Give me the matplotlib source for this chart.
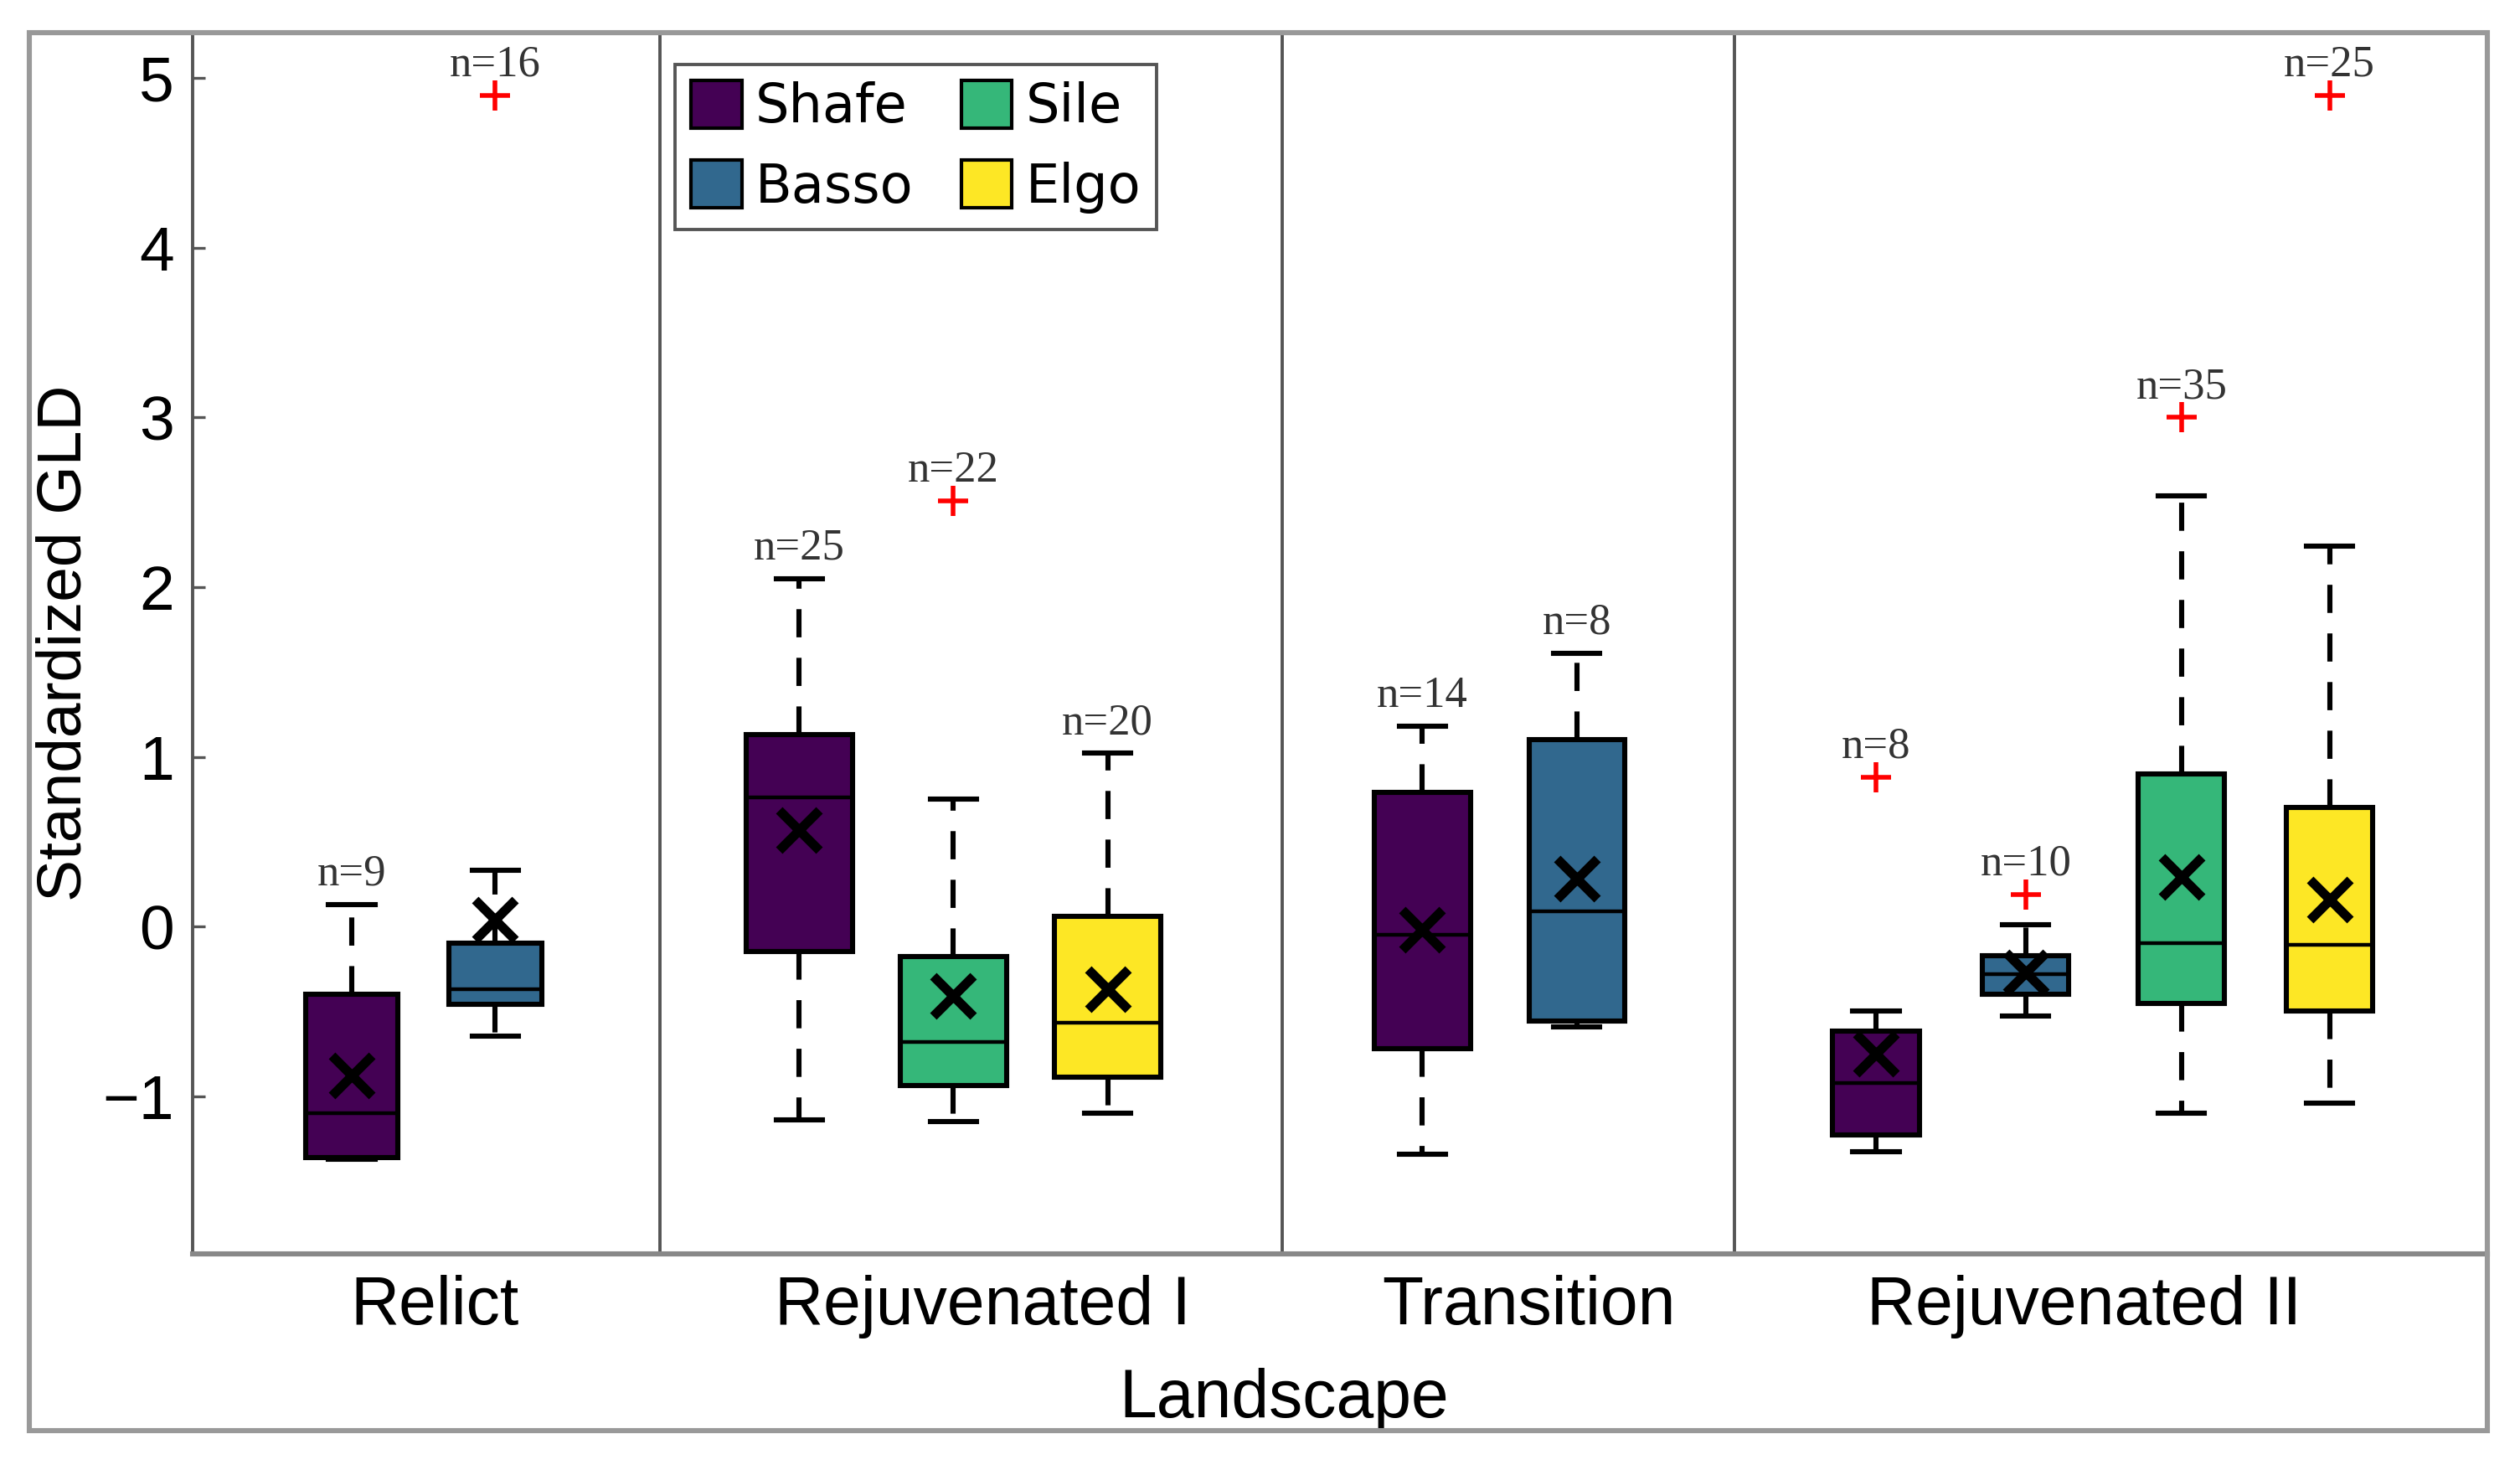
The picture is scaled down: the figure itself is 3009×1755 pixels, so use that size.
import numpy as np
import matplotlib
matplotlib.use('Agg')
import matplotlib.pyplot as plt
from matplotlib.patches import Patch, Rectangle

# datos
paisajes = ['Relict', 'Rejuvenated I', 'Transition', 'Rejuvenated II']
especies = ['Shafe', 'Basso', 'Sile', 'Elgo']
colores = {'Shafe': '#440154', 'Basso': '#31688e', 'Sile': '#35b779', 'Elgo': '#fde725'}

caja_paisaje = [0, 0, 1, 1, 1, 2, 2, 3, 3, 3, 3]
caja_especie = ['Shafe', 'Basso', 'Shafe', 'Sile', 'Elgo', 'Shafe', 'Basso',
                'Shafe', 'Basso', 'Sile', 'Elgo']
bigote_inf = [-1.37, -0.645, -1.14, -1.15, -1.10, -1.34, -0.59, -1.33, -0.53, -1.10, -1.04]
cuartil_1 = [-1.36, -0.46, -0.15, -0.94, -0.886, -0.72, -0.555, -1.23, -0.40, -0.455, -0.50]
mediana = [-1.10, -0.37, 0.76, -0.68, -0.566, -0.05, 0.09, -0.925, -0.28, -0.096, -0.11]
cuartil_3 = [-0.40, -0.097, 1.13, -0.176, 0.06, 0.79, 1.10, -0.615, -0.17, 0.90, 0.70]
bigote_sup = [0.13, 0.33, 2.05, 0.75, 1.02, 1.18, 1.61, -0.50, 0.01, 2.54, 2.24]
media = [-0.876, 0.04, 0.57, -0.41, -0.37, -0.02, 0.28, -0.75, -0.27, 0.29, 0.16]
atipicos = [[], [4.90], [], [2.51], [], [], [], [0.88], [0.19], [3.00], [4.90]]
n_muestras = [9, 16, 25, 22, 20, 14, 8, 8, 10, 35, 25]

# disposicion (unidades del eje x)
posiciones = [1.03, 1.96, 3.93, 4.93, 5.93, 7.97, 8.97, 10.91, 11.88, 12.89, 13.85]
separadores = [3.03, 7.06, 9.99]
pos_etiquetas = [1.57, 5.12, 8.66, 12.26]
anchos_grupo = [0.6, 0.69, 0.62, 0.56]

stats = []
for i in range(len(posiciones)):
    stats.append(dict(whislo=bigote_inf[i], q1=cuartil_1[i], med=mediana[i],
                      q3=cuartil_3[i], whishi=bigote_sup[i], mean=media[i],
                      fliers=np.array(atipicos[i])))

plt.rcParams['font.family'] = ['Liberation Sans', 'DejaVu Sans']
fig = plt.figure(figsize=(15.045, 8.775), dpi=200)
ax = fig.add_axes([0.0765, 0.147, 0.9107, 0.831])

gris = '#555555'
bp = ax.bxp(stats, positions=posiciones,
            widths=[anchos_grupo[g] for g in caja_paisaje],
            capwidths=0.3, showmeans=True, patch_artist=True,
            boxprops=dict(linewidth=2.2, edgecolor='black'),
            medianprops=dict(color='black', linewidth=1.6),
            whiskerprops=dict(color='black', linewidth=2.2, linestyle=(0, (5.5, 4))),
            capprops=dict(color='black', linewidth=2.2),
            meanprops=dict(marker='x', markeredgecolor='black', markersize=17,
                           markeredgewidth=4),
            flierprops=dict(marker='+', markeredgecolor='red', markersize=13,
                            markeredgewidth=2))
for caja, esp in zip(bp['boxes'], caja_especie):
    caja.set_facecolor(colores[esp])

# etiquetas n= sobre el punto mas alto
for i, pos in enumerate(posiciones):
    tope = max([bigote_sup[i]] + atipicos[i])
    ax.annotate(f'n={n_muestras[i]}', (pos, tope), xytext=(0, 13),
                textcoords='offset points', ha='center', va='center',
                fontsize=19, family='Liberation Serif', color='#333333')

# separadores entre paisajes
for s in separadores:
    ax.axvline(s, color=gris, linewidth=1.4)

ax.set_xlim(0, 14.875)
ax.set_ylim(-1.93, 5.27)
ax.set_xticks(pos_etiquetas)
ax.set_xticklabels(paisajes, fontsize=29)
ax.set_yticks([-1, 0, 1, 2, 3, 4, 5])
ax.set_yticklabels(['\u22121', '0', '1', '2', '3', '4', '5'], fontsize=27)
ax.tick_params(axis='y', direction='in', length=5.5, width=1.2, color=gris, pad=8)
ax.tick_params(axis='x', length=0, pad=9)
ax.set_xlabel('Landscape', fontsize=29)
ax.xaxis.set_label_coords(0.4755, -0.093)
ax.set_ylabel('Standardized GLD', fontsize=27, labelpad=4)
for s in ax.spines.values():
    s.set_color(gris)
    s.set_linewidth(1.4)
ax.spines['bottom'].set_linewidth(2.2)
ax.spines['bottom'].set_color('#888888')

# leyenda
manijas = [Patch(facecolor=colores[e], edgecolor='black', linewidth=1.5) for e in especies]
ley = ax.legend(manijas, especies, ncol=2, loc='upper left',
                bbox_to_anchor=(0.21, 0.974), borderaxespad=0,
                prop={'family': 'DejaVu Sans', 'size': 23},
                handlelength=0.95, handleheight=1.0, handletextpad=0.25,
                columnspacing=0.9, labelspacing=0.5, borderpad=0.3,
                fancybox=False, framealpha=1)
ley.get_frame().set_edgecolor(gris)
ley.get_frame().set_linewidth(1.4)

# marco exterior de la figura
fig.patches.append(Rectangle((0.0115, 0.027), 0.9757, 0.951, transform=fig.transFigure,
                             fill=False, edgecolor='#999999', linewidth=2.2))

fig.savefig('out.png', dpi=200)
